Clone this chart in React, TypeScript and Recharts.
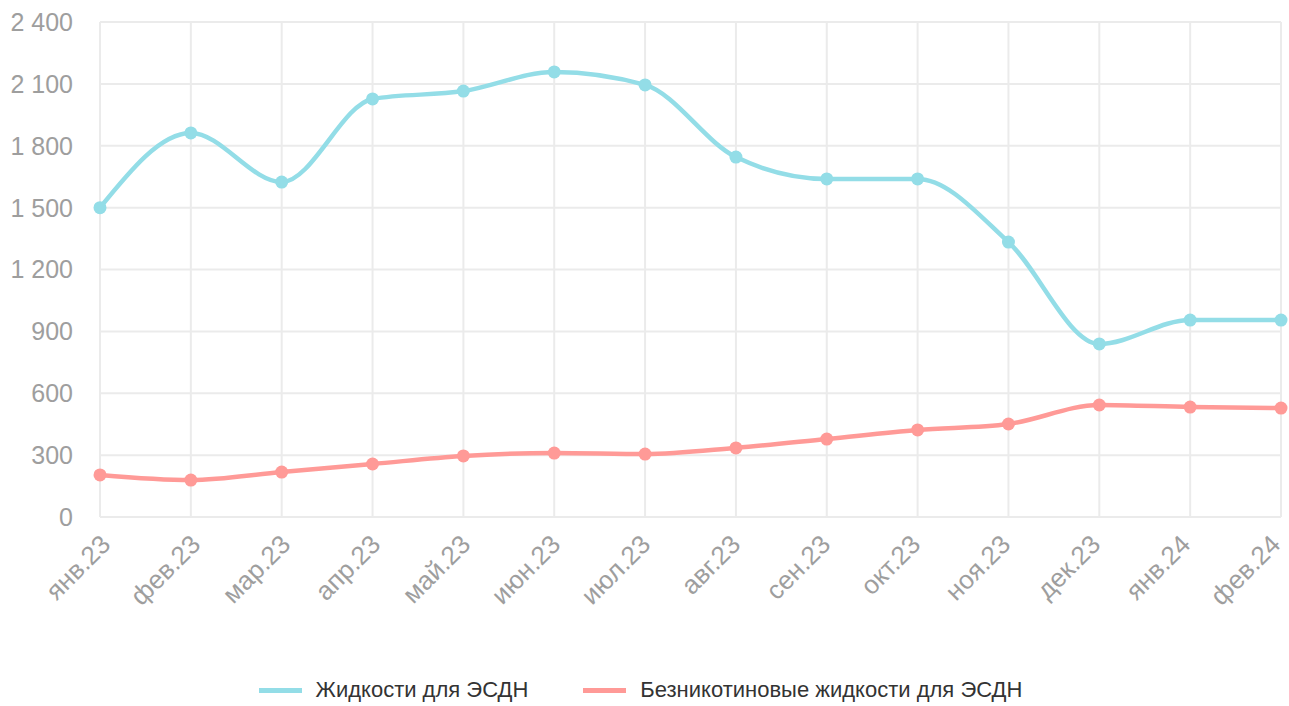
import { CartesianGrid, Legend, Line, LineChart, XAxis, YAxis } from "recharts";

document.body.style.margin = "0";

const months = [
  "янв.23", "фев.23", "мар.23", "апр.23", "май.23", "июн.23", "июл.23",
  "авг.23", "сен.23", "окт.23", "ноя.23", "дек.23", "янв.24", "фев.24",
];
const liquids = [1500, 1862, 1624, 2027, 2065, 2158, 2095, 1745, 1639, 1639, 1333, 839, 955, 955];
const nicotineFree = [204, 179, 218, 257, 296, 310, 305, 335, 378, 422, 451, 543, 533, 528];
const yTicks = [0, 300, 600, 900, 1200, 1500, 1800, 2100, 2400];

const BLUE = "#93dde7";
const RED = "#ff9a97";
const TICK = "#9e9e9e";
const FONT = "'Liberation Sans', Arial, Helvetica, sans-serif";

const data = months.map((m, i) => ({
  month: m,
  liquids: liquids[i],
  nicotineFree: nicotineFree[i],
}));

const series = [
  { key: "liquids", name: "Жидкости для ЭСДН", color: BLUE },
  { key: "nicotineFree", name: "Безникотиновые жидкости для ЭСДН", color: RED },
];

const fmt = (v: number) => String(v).replace(/\B(?=(\d{3})+(?!\d))/g, " ");

// rotated month label, baseline end sits on the tick point
function MonthTick(props: any) {
  const { x, y, payload } = props;
  return (
    <text
      x={x}
      y={y}
      textAnchor="end"
      transform={`rotate(-45, ${x}, ${y})`}
      fill={TICK}
      fontSize={26}
      fontFamily={FONT}
    >
      {payload.value}
    </text>
  );
}

function LegendRow() {
  return (
    <div
      style={{
        display: "flex",
        justifyContent: "center",
        alignItems: "center",
        gap: 55,
        height: 32,
        fontFamily: FONT,
        fontSize: 22,
        color: "#333",
      }}
    >
      {series.map((s) => (
        <div key={s.key} style={{ display: "flex", alignItems: "center" }}>
          <span
            style={{
              display: "inline-block",
              width: 43,
              height: 5,
              background: s.color,
              marginRight: 14,
            }}
          />
          <span>{s.name}</span>
        </div>
      ))}
    </div>
  );
}

export default function App() {
  return (
    <LineChart
      width={1289}
      height={706}
      data={data}
      margin={{ top: 22, right: 8, left: 0, bottom: 0 }}
    >
      <CartesianGrid stroke="#ebebeb" strokeWidth={2} />
      <XAxis dataKey="month" hide height={0} />
      <XAxis
        xAxisId="labels"
        dataKey="month"
        height={157}
        interval={0}
        padding={{ left: 12, right: -1 }}
        tickLine={false}
        axisLine={false}
        tickMargin={23}
        tick={<MonthTick />}
      />
      <YAxis
        width={100}
        domain={[0, 2400]}
        ticks={yTicks}
        tickFormatter={fmt}
        tickLine={false}
        axisLine={false}
        tickMargin={21}
        tick={{ fill: TICK, fontSize: 25, fontFamily: FONT }}
      />
      <Legend verticalAlign="bottom" content={() => <LegendRow />} />
      {series.map((s) => (
        <Line
          key={s.key}
          type="monotone"
          dataKey={s.key}
          name={s.name}
          stroke={s.color}
          strokeWidth={4.5}
          dot={{ r: 6.5, fill: s.color, stroke: s.color, strokeWidth: 0 }}
          activeDot={false}
          isAnimationActive={false}
        />
      ))}
    </LineChart>
  );
}
